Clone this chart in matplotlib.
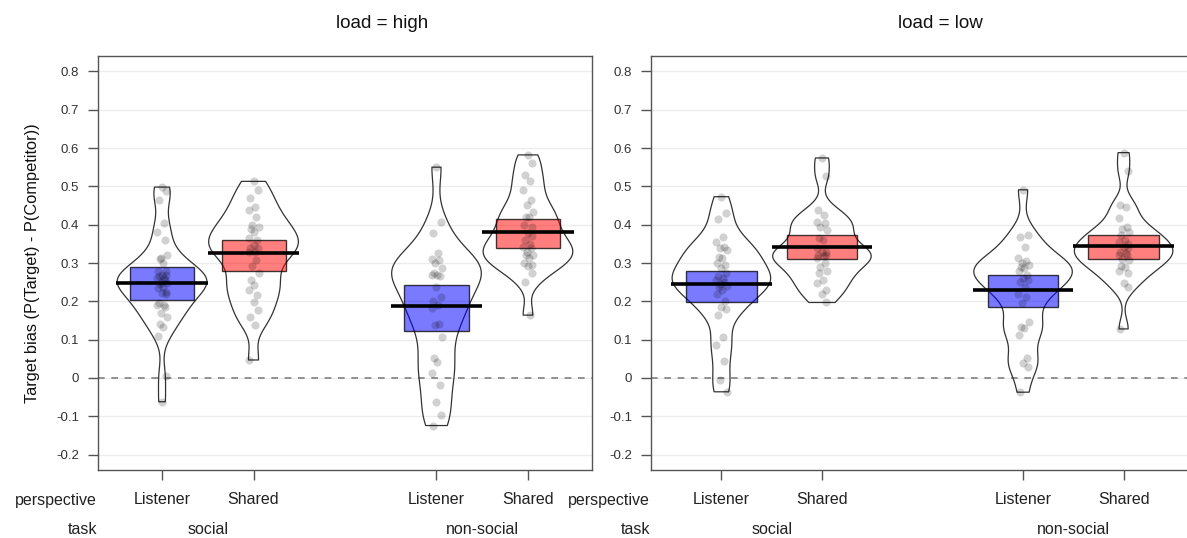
import numpy as np
import matplotlib
matplotlib.use("Agg")
import matplotlib.pyplot as plt
from matplotlib.patches import Rectangle
from matplotlib.transforms import blended_transform_factory

plt.rcParams['font.family'] = ['Liberation Sans', 'DejaVu Sans']

# bean layout inside each panel
loads = ['high', 'low']
perspectives = ['Listener', 'Shared']
tasks = ['social', 'non-social']
bean_pos = [1, 2, 4, 5]

ytick_vals = [-0.2, -0.1, 0, 0.1, 0.2, 0.3, 0.4, 0.5, 0.6, 0.7, 0.8]
ytick_labels = ['-0.2', '-0.1', '0', '0.1', '0.2', '0.3', '0.4', '0.5', '0.6', '0.7', '0.8']

# participant-level target bias, one list per bean
high_social_listener = [0.498, 0.489, 0.465, 0.404, 0.382, 0.360, 0.312, 0.321, 0.310,
                        0.300, 0.280, 0.278, 0.270, 0.269, 0.265, 0.262, 0.260, 0.255,
                        0.250, 0.247, 0.245, 0.238, 0.235, 0.225, 0.221, 0.218, 0.195,
                        0.191, 0.190, 0.186, 0.169, 0.160, 0.141, 0.134, 0.110,
                        0.005, -0.062]
high_social_shared = [0.513, 0.491, 0.469, 0.447, 0.439, 0.421, 0.399, 0.395, 0.390,
                      0.382, 0.365, 0.360, 0.347, 0.340, 0.339, 0.330, 0.330, 0.308,
                      0.291, 0.273, 0.256, 0.243, 0.230, 0.217, 0.199, 0.178, 0.160,
                      0.138, 0.047]
high_nonsocial_listener = [0.550, 0.406, 0.378, 0.325, 0.310, 0.308, 0.300, 0.286, 0.275,
                           0.270, 0.269, 0.265, 0.238, 0.212, 0.200, 0.190, 0.182, 0.140,
                           0.138, 0.108, 0.051, 0.043, 0.012, -0.018, -0.062, -0.097, -0.124]
high_nonsocial_shared = [0.582, 0.562, 0.530, 0.513, 0.491, 0.465, 0.452, 0.434, 0.421,
                         0.420, 0.400, 0.395, 0.378, 0.370, 0.360, 0.350, 0.343, 0.340,
                         0.330, 0.321, 0.320, 0.312, 0.300, 0.295, 0.291, 0.273, 0.251,
                         0.164]
low_social_listener = [0.473, 0.430, 0.415, 0.369, 0.356, 0.343, 0.340, 0.334, 0.315,
                       0.312, 0.300, 0.295, 0.286, 0.275, 0.265, 0.260, 0.256, 0.250,
                       0.245, 0.240, 0.238, 0.230, 0.220, 0.200, 0.186, 0.180, 0.164,
                       0.108, 0.086, 0.045, -0.005, -0.036]
low_social_shared = [0.574, 0.527, 0.439, 0.426, 0.408, 0.404, 0.395, 0.386, 0.365,
                     0.360, 0.340, 0.330, 0.330, 0.321, 0.320, 0.317, 0.312, 0.300,
                     0.290, 0.280, 0.273, 0.256, 0.247, 0.230, 0.220, 0.197]
low_nonsocial_listener = [0.491, 0.373, 0.369, 0.343, 0.312, 0.304, 0.300, 0.295, 0.290,
                          0.286, 0.280, 0.270, 0.260, 0.256, 0.250, 0.238, 0.220, 0.212,
                          0.195, 0.147, 0.134, 0.130, 0.112, 0.051, 0.040, 0.030, -0.037]
low_nonsocial_shared = [0.588, 0.539, 0.452, 0.447, 0.417, 0.393, 0.388, 0.380, 0.373,
                        0.360, 0.356, 0.350, 0.343, 0.340, 0.330, 0.325, 0.321, 0.320,
                        0.310, 0.308, 0.291, 0.290, 0.278, 0.273, 0.247, 0.238, 0.128]

high_data = [high_social_listener, high_social_shared,
             high_nonsocial_listener, high_nonsocial_shared]
low_data = [low_social_listener, low_social_shared,
            low_nonsocial_listener, low_nonsocial_shared]

# bean means and interval bounds
high_means = [0.249, 0.327, 0.189, 0.380]
high_lo = [0.204, 0.279, 0.123, 0.340]
high_hi = [0.290, 0.359, 0.242, 0.414]
low_means = [0.245, 0.343, 0.230, 0.345]
low_lo = [0.197, 0.311, 0.184, 0.311]
low_hi = [0.280, 0.372, 0.269, 0.373]

W, H = 1187, 538
fig = plt.figure(figsize=(W / 100, H / 100), dpi=100)

def px_axes(x0, y0, x1, y1):
    return fig.add_axes([x0 / W, 1 - y1 / H, (x1 - x0) / W, (y1 - y0) / H])

fill_cols = [(0, 0, 1, 0.52), (1, 0, 0, 0.5)]
jitter = [0.0, 0.045, -0.035, 0.02, -0.05, 0.03, -0.015, 0.055, -0.025, 0.01, -0.045, 0.04]
txt_col = '#222222'

def pirate(ax, data, means, lo, hi):
    ax.set_xlim(0.3, 5.7)
    ax.set_ylim(-0.24, 0.84)
    for v in ytick_vals:
        ax.axhline(v, color='#ececec', lw=1, zorder=0)
    ax.axhline(0, color='#808080', lw=1.2, ls=(0, (4, 4)), zorder=1)

    vp = ax.violinplot(data, positions=bean_pos, widths=0.98, showextrema=False,
                       bw_method=0.3)
    for body in vp['bodies']:
        body.set_facecolor('none')
        body.set_edgecolor('#333333')
        body.set_linewidth(0.9)
        body.set_alpha(1)
        body.set_zorder(2)

    for i, x in enumerate(bean_pos):
        col = fill_cols[i % 2]
        ax.add_patch(Rectangle((x - 0.35, lo[i]), 0.7, hi[i] - lo[i], facecolor=col,
                               edgecolor=(0, 0, 0, 0.75), lw=1, zorder=3))
        vals = data[i]
        xs = [x + jitter[k % len(jitter)] for k in range(len(vals))]
        ax.scatter(xs, vals, s=34, color='black', alpha=0.18, lw=0, zorder=4)
        ax.plot([x - 0.5, x + 0.5], [means[i], means[i]], color='black', lw=2.6,
                solid_capstyle='butt', zorder=5)

    for s in ax.spines.values():
        s.set_color('#555555')
        s.set_linewidth(1)
    ax.set_yticks(ytick_vals)
    ax.set_yticklabels(ytick_labels)
    ax.set_xticks(bean_pos)
    ax.set_xticklabels([])
    ax.tick_params(axis='both', direction='out', length=7.2, width=1, color='#555555',
                   labelsize=9.5, labelcolor='#333333', pad=6.3)

    # row labels under the panel
    tr = blended_transform_factory(ax.transData, fig.transFigure)
    tl = blended_transform_factory(ax.transAxes, fig.transFigure)
    y_p = 1 - 500 / H
    y_t = 1 - 529 / H
    for i, x in enumerate(bean_pos):
        ax.text(x, y_p, perspectives[i % 2], transform=tr, ha='center', va='center',
                fontsize=11.5, color=txt_col)
    for j, tk in enumerate(tasks):
        xm = (bean_pos[2 * j] + bean_pos[2 * j + 1]) / 2
        ax.text(xm, y_t, tk, transform=tr, ha='center', va='center',
                fontsize=11.5, color=txt_col)
    ax.text(-0.002, y_p, 'perspective', transform=tl, ha='right', va='center',
            fontsize=11.5, color=txt_col)
    ax.text(-0.002, y_t, 'task', transform=tl, ha='right', va='center',
            fontsize=11.5, color=txt_col)


ax1 = px_axes(98, 56, 592, 470)
pirate(ax1, high_data, high_means, high_lo, high_hi)
ax2 = px_axes(651, 56, 1194, 470)
pirate(ax2, low_data, low_means, low_lo, low_hi)

fig.text(382 / W, 1 - 23 / H, 'load = ' + loads[0], ha='center', va='center',
         fontsize=13.5, color='#111111')
fig.text(940 / W, 1 - 23 / H, 'load = ' + loads[1], ha='center', va='center',
         fontsize=13.5, color='#111111')
fig.text(33 / W, 1 - 263 / H, 'Target bias (P(Target) - P(Competitor))', rotation=90,
         ha='center', va='center', fontsize=11.8, color='#111111')

fig.savefig('out.png', dpi=100)
